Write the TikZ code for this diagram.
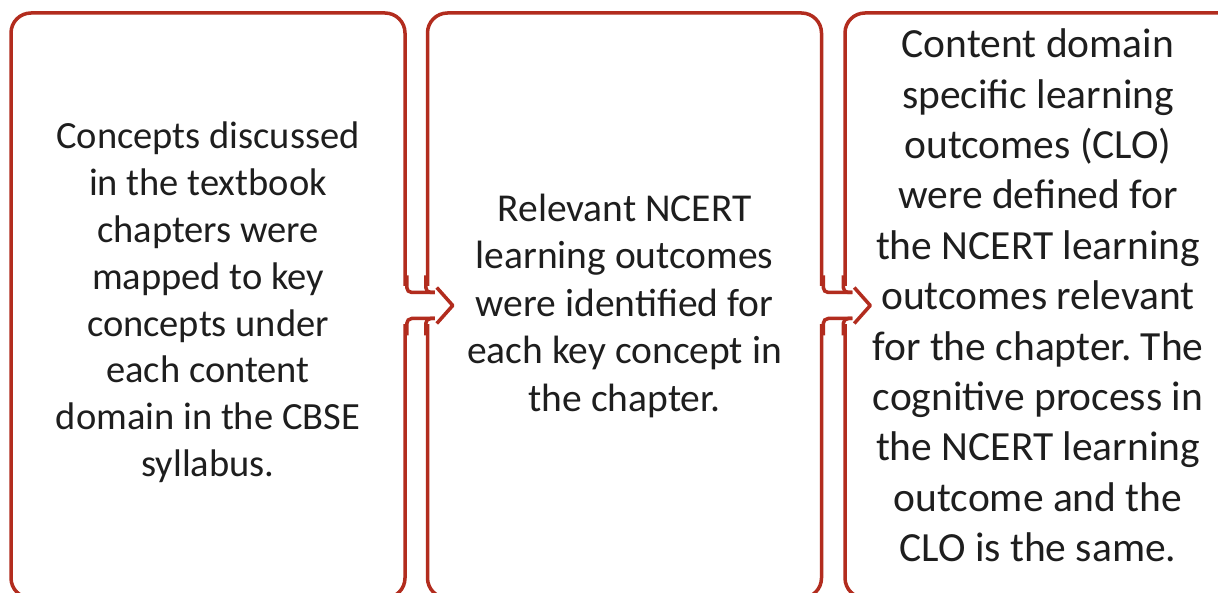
\documentclass[tikz,border=0pt]{standalone}
\usepackage{fontspec}
\setmainfont{Carlito}
\usetikzlibrary{calc}
\definecolor{boxred}{RGB}{178,44,30}
\definecolor{txt}{RGB}{30,30,30}
\frenchspacing
\begin{document}
\begin{tikzpicture}[x=1pt,y=-1pt,
  box/.style={draw=boxred, line width=3.5pt, rounded corners=20pt,
    minimum width=394pt, minimum height=585pt, inner sep=0pt},
  label/.style={text=txt, align=center},
  conn/.style={draw=boxred, line width=3.5pt, rounded corners=5pt},
  chev/.style={draw=boxred, line width=3.5pt, line join=round}]
\useasboundingbox (0,0) rectangle (1218,593);
\clip (0,0) rectangle (1218,593);
\fill[white] (0,0) rectangle (1218,593);

\node[box] (b1) at (208,305.5) {};
\node[box] (b2) at (624.5,305.5) {};
\node[box] (b3) at (1042,305.5) {};

\node[label, font=\fontsize{38.5}{46.8}\selectfont] (t1) at ($(b1.center)+(0,-3)$) {Concepts discussed\\in the textbook\\chapters were\\mapped to key\\concepts under\\each content\\domain in the CBSE\\syllabus.};
\node[label, font=\fontsize{39.5}{47.5}\selectfont] (t2) at ($(b2.center)+(0,0)$) {Relevant NCERT\\learning outcomes\\were identified for\\each key concept in\\the chapter.};
\node[label, font=\fontsize{41.5}{50.4}\selectfont] (t3) at ($(b3.center)+(-4,-10)$) {Content domain\\specific learning\\outcomes (CLO)\\were defined for\\the NCERT learning\\outcomes relevant\\for the chapter. The\\cognitive process in\\the NCERT learning\\outcome and the\\CLO is the same.};

% connectors
\foreach \a/\b in {b1/b2, b2/b3}{
  \fill[white] ($(\a.east)+(-7,-19)$) rectangle ($(\b.west)+(7,19)$);
  \draw[conn] ($(\a.east)+(0,-30)$) -- ($(\a.east)+(0,-13)$) -- ($(\b.west)+(9,-13)$);
  \draw[conn] ($(\b.west)+(0,-30)$) -- ($(\b.west)+(0,-13)$) -- ($(\b.west)+(9,-13)$);
  \draw[conn] ($(\a.east)+(0,30)$) -- ($(\a.east)+(0,13)$) -- ($(\b.west)+(9,13)$);
  \draw[conn] ($(\b.west)+(0,30)$) -- ($(\b.west)+(0,13)$) -- ($(\b.west)+(9,13)$);
  \draw[chev] ($(\b.west)+(11,-18)$) -- ($(\b.west)+(27,0)$) -- ($(\b.west)+(11,18)$);
}
\end{tikzpicture}
\end{document}
